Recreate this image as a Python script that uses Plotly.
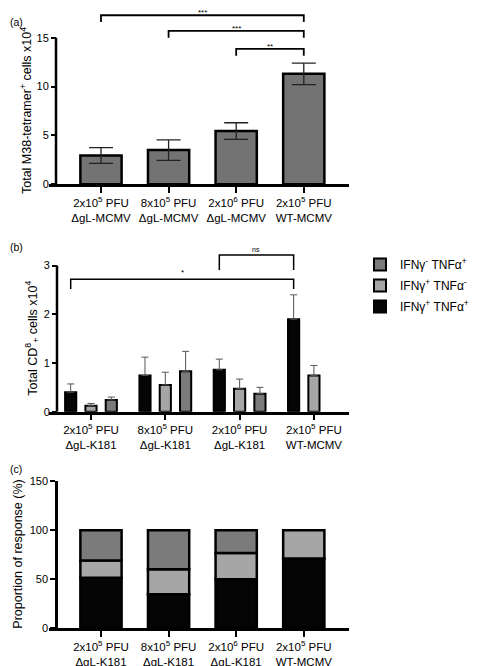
import plotly.graph_objects as go

# ---- data ----
groups_a = ["2x10<sup>5</sup> PFU<br>ΔgL-MCMV", "8x10<sup>5</sup> PFU<br>ΔgL-MCMV",
            "2x10<sup>6</sup> PFU<br>ΔgL-MCMV", "2x10<sup>5</sup> PFU<br>WT-MCMV"]
groups_bc = ["2x10<sup>5</sup> PFU<br>ΔgL-K181", "8x10<sup>5</sup> PFU<br>ΔgL-K181",
             "2x10<sup>6</sup> PFU<br>ΔgL-K181", "2x10<sup>5</sup> PFU<br>WT-MCMV"]

tetramer_mean = [2.95, 3.5, 5.45, 11.3]
tetramer_sem = [0.8, 1.05, 0.85, 1.1]
# (a) significance brackets: left idx, right idx, height, label
brackets_a = [(0, 3, 17.3, "***"), (1, 3, 15.7, "***"), (2, 3, 13.85, "**")]

dp_mean = [0.40, 0.745, 0.86, 1.90]       # IFNg+ TNFa+
dp_sem = [0.17, 0.375, 0.22, 0.50]
ifn_mean = [0.12, 0.55, 0.47, 0.745]      # IFNg+ TNFa-
ifn_sem = [0.05, 0.26, 0.20, 0.205]
tnf_mean = [0.24, 0.83, 0.37, None]       # IFNg- TNFa+
tnf_sem = [0.06, 0.41, 0.13, 0]
brackets_b = [(0, 3, 2.72, "*"), (2, 3, 3.22, "ns")]

prop_dp = [51.5, 34.4, 49.8, 71.0]
prop_ifn = [17.4, 25.6, 26.9, 29.0]
prop_tnf = [31.1, 40.0, 23.3, None]

names = ["IFNγ<sup>+</sup> TNFα<sup>+</sup>", "IFNγ<sup>+</sup> TNFα<sup>-</sup>",
         "IFNγ<sup>-</sup> TNFα<sup>+</sup>"]
c_black, c_light, c_dark, c_a = "#050505", "#a6a6a6", "#7b7b7b", "#737373"

font = "Liberation Sans, Arial, sans-serif"
xs = [0, 1, 2, 3]

# page body adds an 8px margin, so the figure is a bit smaller than the window
W, H, OFF = 472, 658, 8


def px(xp):
    return (xp - OFF) / W


def py(yp):
    return 1 - (yp - OFF) / H


fig = go.Figure()

# (a)
fig.add_trace(go.Bar(x=xs, y=tetramer_mean, width=0.61, marker_color=c_a,
                     marker_line=dict(color="black", width=2.5),
                     error_y=dict(type="data", array=tetramer_sem, color="#222",
                                  thickness=1.3, width=12),
                     showlegend=False, xaxis="x", yaxis="y"))

# (b)
for rank, (m, s, col, nm) in zip([3, 2, 1], [(dp_mean, dp_sem, c_black, names[0]),
                                             (ifn_mean, ifn_sem, c_light, names[1]),
                                             (tnf_mean, tnf_sem, c_dark, names[2])]):
    fig.add_trace(go.Bar(x=xs, y=m, name=nm, marker_color=col,
                         marker_line=dict(color="black", width=2),
                         error_y=dict(type="data", symmetric=False, array=s,
                                      arrayminus=[0] * 4, color="#555",
                                      thickness=1, width=3.5),
                         xaxis="x2", yaxis="y2", offsetgroup=nm, legendgroup=nm,
                         legendrank=rank))

# (c) stacked: each segment starts where the previous ones end
base = [0, 0, 0, 0]
for v, col in [(prop_dp, c_black), (prop_ifn, c_light), (prop_tnf, c_dark)]:
    fig.add_trace(go.Bar(x=xs, y=v, base=list(base), width=0.61, marker_color=col,
                         marker_line=dict(color="black", width=2.5), offsetgroup="c",
                         showlegend=False, xaxis="x3", yaxis="y3"))
    base = [b + (val or 0) for b, val in zip(base, v)]

shapes, annotations = [], []
dy_a = 0.7
for l, r, h, lab in brackets_a:
    fig.add_trace(go.Scatter(x=[l, l, r, r], y=[h - dy_a, h, h, h - dy_a], mode="lines",
                             line=dict(color="black", width=1.8), showlegend=False,
                             hoverinfo="skip", xaxis="x", yaxis="y"))
    annotations.append(dict(x=(l + r) / 2, y=h, xref="x", yref="y", text=lab,
                            showarrow=False, yanchor="bottom", yshift=-4,
                            font=dict(size=8, color="black")))
off_b = 0.273
for k, (l, r, h, lab) in enumerate(brackets_b):
    d = 0.2 if k == 0 else 0.31
    fig.add_trace(go.Scatter(x=[l - off_b, l - off_b, r - off_b, r - off_b],
                             y=[h - d, h, h, h - d], mode="lines",
                             line=dict(color="black", width=1.5), showlegend=False,
                             hoverinfo="skip", xaxis="x2", yaxis="y2"))
    annotations.append(dict(x=(l + r) / 2 - off_b, y=h, xref="x2", yref="y2", text=lab,
                            showarrow=False, yanchor="bottom",
                            font=dict(size=8 if lab != "ns" else 7, color="black")))

# y axis lines that stop at the top tick
pos_a, pos_b, pos_c = px(56), px(57), px(56)
shapes.append(dict(type="line", xref="paper", yref="y", x0=pos_a, x1=pos_a, y0=0, y1=15,
                   line=dict(color="black", width=2.5)))
shapes.append(dict(type="line", xref="paper", yref="y2", x0=pos_b, x1=pos_b, y0=0, y1=3,
                   line=dict(color="black", width=2.5)))

# y titles centred on the drawn axis line
titlef = dict(size=12.5, color="black", family=font)
for txt, xp, yref, yv in [("Total M38-tetramer<sup>+</sup> cells x10<sup>4</sup>", 16, "y", 7.5),
                          ("Total CD<sup>8</sup><sub>+</sub> cells x10<sup>4</sup>", 21, "y2", 1.5),
                          ("Proportion of response (%)", 9, "y3", 75)]:
    annotations.append(dict(x=px(xp), y=yv, xref="paper", yref=yref, text=txt,
                            textangle=-90, showarrow=False, font=titlef))

for txt, yy in [("(a)", 14), ("(b)", 247), ("(c)", 477)]:
    annotations.append(dict(x=px(8), y=py(yy), xref="paper", yref="paper",
                            text=txt, showarrow=False, xanchor="left",
                            font=dict(size=10.5, color="black")))

xdom = [px(49), px(349)]
tickf = dict(size=11.5, color="black", family=font)


def xax(rng, labels, anchor):
    return dict(domain=xdom, range=rng, tickvals=xs, ticktext=labels, showline=True,
                linecolor="black", linewidth=2.5, ticks="outside", ticklen=6,
                tickwidth=2, tickcolor="black", showgrid=False, zeroline=False,
                tickfont=tickf, anchor=anchor, fixedrange=True, automargin=False)


def yax(dom, rng, tv, pos, showline):
    return dict(domain=dom, range=rng, tickvals=tv, anchor="free", position=pos,
                showline=showline, linecolor="black", linewidth=2.5, ticks="outside",
                ticklen=5, tickwidth=2, tickcolor="black", showgrid=False,
                zeroline=False, tickfont=dict(size=11, color="black", family=font),
                automargin=False)


fig.update_layout(
    width=W, height=H,
    margin=dict(l=0, r=0, t=0, b=0, autoexpand=False),
    paper_bgcolor="white", plot_bgcolor="white",
    font=dict(family=font, color="black"),
    barmode="group", bargap=0.18, bargroupgap=0.45,
    xaxis=xax([-0.769, 3.669], groups_a, "y"),
    yaxis=yax([py(184.3), py(8.4)], [0, 18], [0, 5, 10, 15], pos_a, False),
    xaxis2=xax([-0.565, 3.472], groups_bc, "y2"),
    yaxis2=yax([py(411.7), py(251)], [0, 3.3], [0, 1, 2, 3], pos_b, False),
    xaxis3=xax([-0.769, 3.669], groups_bc, "y3"),
    yaxis3=yax([py(628), py(481.3)], [0, 150], [0, 50, 100, 150], pos_c, True),
    shapes=shapes, annotations=annotations,
    legend=dict(x=px(360), y=py(250), xanchor="left", yanchor="top",
                traceorder="grouped", tracegroupgap=2,
                font=dict(size=12, color="black", family=font),
                bgcolor="rgba(0,0,0,0)", itemwidth=30),
)
fig.write_html("out.html")
